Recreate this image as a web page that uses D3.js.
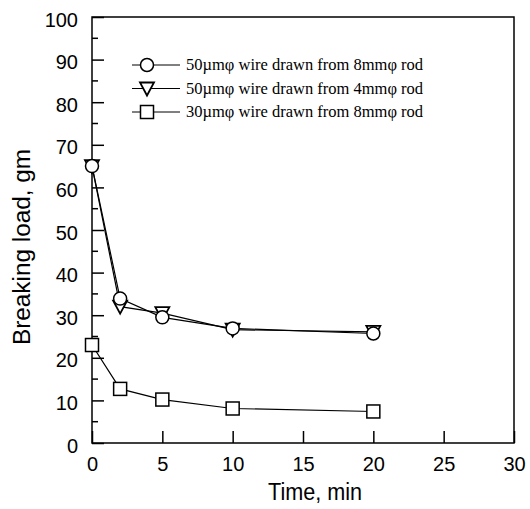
<!DOCTYPE html>
<html>
<head>
<meta charset="utf-8">
<script src="https://cdn.jsdelivr.net/npm/d3@7"></script>
<style>
  body { margin: 0; background: #fff; }
  text { fill: #000; }
</style>
</head>
<body>
<div id="chart"></div>
<script>
// time, min
var times = [0, 2, 5, 10, 20];

// breaking load, gm
var rod8_50 = [65, 33.9, 29.5, 26.9, 25.7];
var rod4_50 = [65, 32, 30.5, 26.6, 26.1];
var rod8_30 = [23, 12.7, 10.2, 8.1, 7.4];

var seriesNames = [
    "50\u00b5m\u03c6 wire drawn from 8mm\u03c6 rod",
    "50\u00b5m\u03c6 wire drawn from 4mm\u03c6 rod",
    "30\u00b5m\u03c6 wire drawn from 8mm\u03c6 rod"
];
var seriesMarkers = ["circle", "triangle", "square"];

var xTicks = [0, 5, 10, 15, 20, 25, 30];
var yTicks = [0, 10, 20, 30, 40, 50, 60, 70, 80, 90, 100];
var yMinor = [5, 15, 25, 35, 45, 55, 65, 75, 85, 95];

var margin = {top: 17, right: 16, bottom: 66, left: 92},
    width = 530 - margin.left - margin.right,
    height = 509 - margin.top - margin.bottom;

var svg = d3.select("#chart")
    .append("svg")
        .attr("width", 530)
        .attr("height", 509)
    .append("g")
        .attr("transform", "translate(" + margin.left + "," + margin.top + ")");

var x = d3.scaleLinear().domain([0, 30]).range([0, width]);
var y = d3.scaleLinear().domain([0, 100]).range([height, 0]);

// frame
svg.append("rect")
    .attr("width", width)
    .attr("height", height)
    .attr("fill", "none")
    .attr("stroke", "#000")
    .attr("stroke-width", 1.5);

// x axis, ticks pointing inward
var xAxis = svg.append("g")
    .attr("transform", "translate(0," + height + ")")
    .call(d3.axisBottom(x).tickValues(xTicks).tickSize(-12).tickPadding(14));
xAxis.select(".domain").remove();
xAxis.selectAll("line").attr("stroke-width", 1.5);
xAxis.selectAll("text")
    .attr("font-family", "Liberation Sans, Arial, sans-serif")
    .attr("font-size", "20px");

// y axis
var yAxis = svg.append("g")
    .call(d3.axisLeft(y).tickValues(yTicks).tickSize(-12).tickPadding(14));
yAxis.select(".domain").remove();
yAxis.selectAll("line").attr("stroke-width", 1.5);
yAxis.selectAll("text")
    .attr("font-family", "Liberation Sans, Arial, sans-serif")
    .attr("font-size", "20px")
    .attr("dy", "0.45em");

svg.append("g")
    .selectAll("line")
    .data(yMinor)
    .enter()
    .append("line")
    .attr("x1", 0)
    .attr("x2", 6)
    .attr("y1", function (d) { return y(d); })
    .attr("y2", function (d) { return y(d); })
    .attr("stroke", "#000")
    .attr("stroke-width", 1.5);

// axis titles
svg.append("text")
    .attr("text-anchor", "middle")
    .attr("x", width / 2 + 12)
    .attr("y", height + 57)
    .attr("font-family", "Liberation Sans, Arial, sans-serif")
    .attr("font-size", "23px")
    .attr("textLength", 94)
    .attr("lengthAdjust", "spacingAndGlyphs")
    .text("Time, min");

svg.append("text")
    .attr("text-anchor", "middle")
    .attr("transform", "rotate(-90)")
    .attr("x", -230)
    .attr("y", -62)
    .attr("font-family", "Liberation Sans, Arial, sans-serif")
    .attr("font-size", "23px")
    .attr("textLength", 196)
    .attr("lengthAdjust", "spacingAndGlyphs")
    .text("Breaking load, gm");

function drawMarker(g, type, cx, cy) {
    if (type == "circle") {
        g.append("circle")
            .attr("cx", cx).attr("cy", cy).attr("r", 6.5)
            .attr("fill", "#fff").attr("stroke", "#000").attr("stroke-width", 1.5);
    } else if (type == "triangle") {
        g.append("path")
            .attr("d", "M" + (cx - 7) + "," + (cy - 6) + "L" + (cx + 7) + "," + (cy - 6) + "L" + cx + "," + (cy + 7) + "Z")
            .attr("fill", "#fff").attr("stroke", "#000").attr("stroke-width", 1.8);
    } else {
        g.append("rect")
            .attr("x", cx - 6.5).attr("y", cy - 6.5).attr("width", 13).attr("height", 13)
            .attr("fill", "#fff").attr("stroke", "#000").attr("stroke-width", 1.5);
    }
}

var allSeries = [rod8_50, rod4_50, rod8_30];
var line = d3.line()
    .x(function (d, i) { return x(times[i]); })
    .y(function (d) { return y(d); });

// lines first, then markers on top
allSeries.forEach(function (s) {
    svg.append("path")
        .datum(s)
        .attr("d", line)
        .attr("fill", "none")
        .attr("stroke", "#000")
        .attr("stroke-width", 1.2);
});
// draw squares, triangles, then circles
[2, 1, 0].forEach(function (k) {
    var g = svg.append("g");
    allSeries[k].forEach(function (v, i) {
        drawMarker(g, seriesMarkers[k], x(times[i]), y(v));
    });
});

// legend
var legend = svg.append("g").attr("transform", "translate(40,48)");
seriesNames.forEach(function (name, i) {
    var ly = i * 23.5;
    legend.append("line")
        .attr("x1", 0).attr("x2", 48)
        .attr("y1", ly).attr("y2", ly)
        .attr("stroke", "#000").attr("stroke-width", 1);
    drawMarker(legend, seriesMarkers[i], 15, ly);
    legend.append("text")
        .attr("x", 54)
        .attr("y", ly + 5)
        .attr("font-family", "Liberation Serif, Times New Roman, serif")
        .attr("font-size", "16.5px")
        .text(name);
});
</script>
</body>
</html>
